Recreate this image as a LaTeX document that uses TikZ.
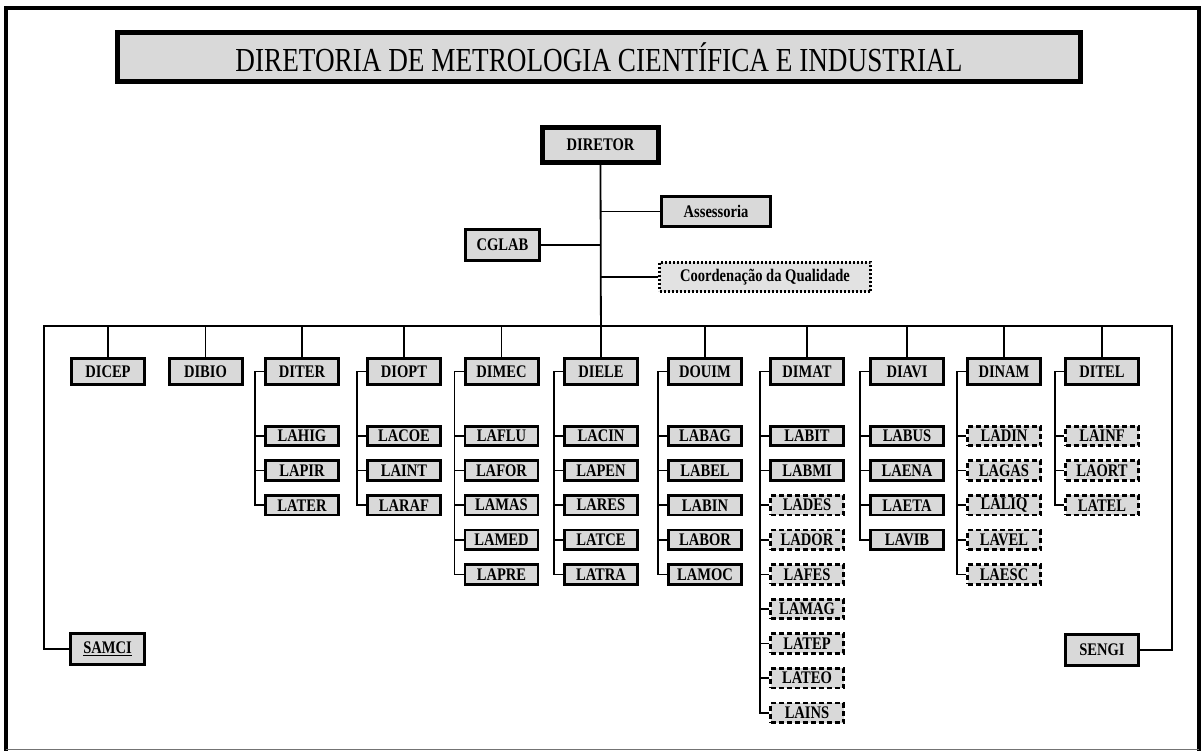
\documentclass[tikz,border=0pt]{standalone}
\usepackage{fontspec}
\setmainfont{Liberation Serif}
\usetikzlibrary{calc}
\definecolor{boxgray}{RGB}{217,217,217}
\definecolor{qualgray}{RGB}{226,226,226}
\newcommand{\bxt}[1]{\scalebox{0.97}[1.18]{#1}}
\begin{document}
\begin{tikzpicture}[x=1pt,y=-1pt,
  box/.style={draw=black, fill=boxgray, line width=3pt, minimum width=73pt, minimum height=26pt, inner sep=0pt, font=\bfseries\fontsize{15}{15}\selectfont},
  lab/.style={box, minimum height=19.5pt, line width=2.8pt},
  dlab/.style={lab, dash pattern=on 5pt off 3pt},
  conn/.style={line width=1.8pt},
  bconn/.style={line width=1.5pt}]
\useasboundingbox (0,0) rectangle (1204,751);
\fill[white] (0,0) rectangle (1204,751);
% outer frame
\draw[line width=4pt] (6,751) -- (6,8) -- (1199,8) -- (1199,751);
\draw[line width=1.5pt, black!55] (6,749.5) -- (1199,749.5);
% title
\node[draw=black, fill=boxgray, line width=5pt, minimum width=963pt, minimum height=49pt, inner sep=0pt] (title) at (599,57)
  {\fontsize{32}{32}\selectfont\scalebox{0.85}[1.05]{DIRETORIA DE METROLOGIA CIENTÍFICA E INDUSTRIAL}};
% top level
\node[box, line width=5pt, minimum width=116pt, minimum height=35pt] (diretor) at (600.5,145) {\bxt{DIRETOR}};
\node[box, minimum width=109pt, minimum height=30pt] (assess) at (716,211.5) {\bxt{Assessoria}};
\node[box, minimum width=74pt, minimum height=31pt] (cglab) at (502.5,245) {\bxt{CGLAB}};
\node[box, fill=qualgray, line width=2.2pt, dash pattern=on 2pt off 2pt, minimum width=211pt, minimum height=29pt] (qual) at (765,277) {\bxt{Coordenação da Qualidade}};
\draw[conn] (assess.west) -- (assess.west -| diretor.south);
\draw[conn] (cglab.east) -- (cglab.east -| diretor.south);
\draw[conn] (qual.west) -- (qual.west -| diretor.south);
% bus
\coordinate (busL) at (44,326);
\coordinate (busR) at (1172,326);
\node[box, line width=3.5pt, minimum width=74pt, minimum height=31pt] (samci) at (107.5,649) {\bxt{\underline{SAMCI}}};
\node[box, line width=3.5pt, minimum width=73pt, minimum height=31pt] (sengi) at (1102,650) {\bxt{SENGI}};
\draw[conn] (samci.west) -| (busL) -- (busR) |- (sengi.east);
% divisions
\foreach \c/\t/\px in {dicep/DICEP/108, dibio/DIBIO/205.5, diter/DITER/302, diopt/DIOPT/404, dimec/DIMEC/501.5,
  diele/DIELE/601, douim/DOUIM/705, dimat/DIMAT/807, diavi/DIAVI/907, dinam/DINAM/1004, ditel/DITEL/1102} {
  \node[box] (\c) at (\px,371.5) {\bxt{\t}};
  \draw[conn] (\c.north) -- (\c.north |- busL);
}
\draw[conn] (diretor.south) -- (diele.north);
% laboratories
\foreach \c/\px/\labs in {
  diter/302/{LAHIG/lab,LAPIR/lab,LATER/lab},
  diopt/404/{LACOE/lab,LAINT/lab,LARAF/lab},
  dimec/501.5/{LAFLU/lab,LAFOR/lab,LAMAS/lab,LAMED/lab,LAPRE/lab},
  diele/601/{LACIN/lab,LAPEN/lab,LARES/lab,LATCE/lab,LATRA/lab},
  douim/705/{LABAG/lab,LABEL/lab,LABIN/lab,LABOR/lab,LAMOC/lab},
  dimat/807/{LABIT/lab,LABMI/lab,LADES/dlab,LADOR/dlab,LAFES/dlab,LAMAG/dlab,LATEP/dlab,LATEO/dlab,LAINS/dlab},
  diavi/907/{LABUS/lab,LAENA/lab,LAETA/lab,LAVIB/lab},
  dinam/1004/{LADIN/dlab,LAGAS/dlab,LALIQ/dlab,LAVEL/dlab,LAESC/dlab},
  ditel/1102/{LAINF/dlab,LAORT/dlab,LATEL/dlab}} {
  \foreach \n/\s [count=\i] in \labs {
    \node[\s] (\c-\i) at (\px,{436+34.6*(\i-1)}) {\bxt{\n}};
    \draw[bconn] (\c-\i.west) -- ++(-9,0) |- (\c.west);
  }
}
\end{tikzpicture}
\end{document}
